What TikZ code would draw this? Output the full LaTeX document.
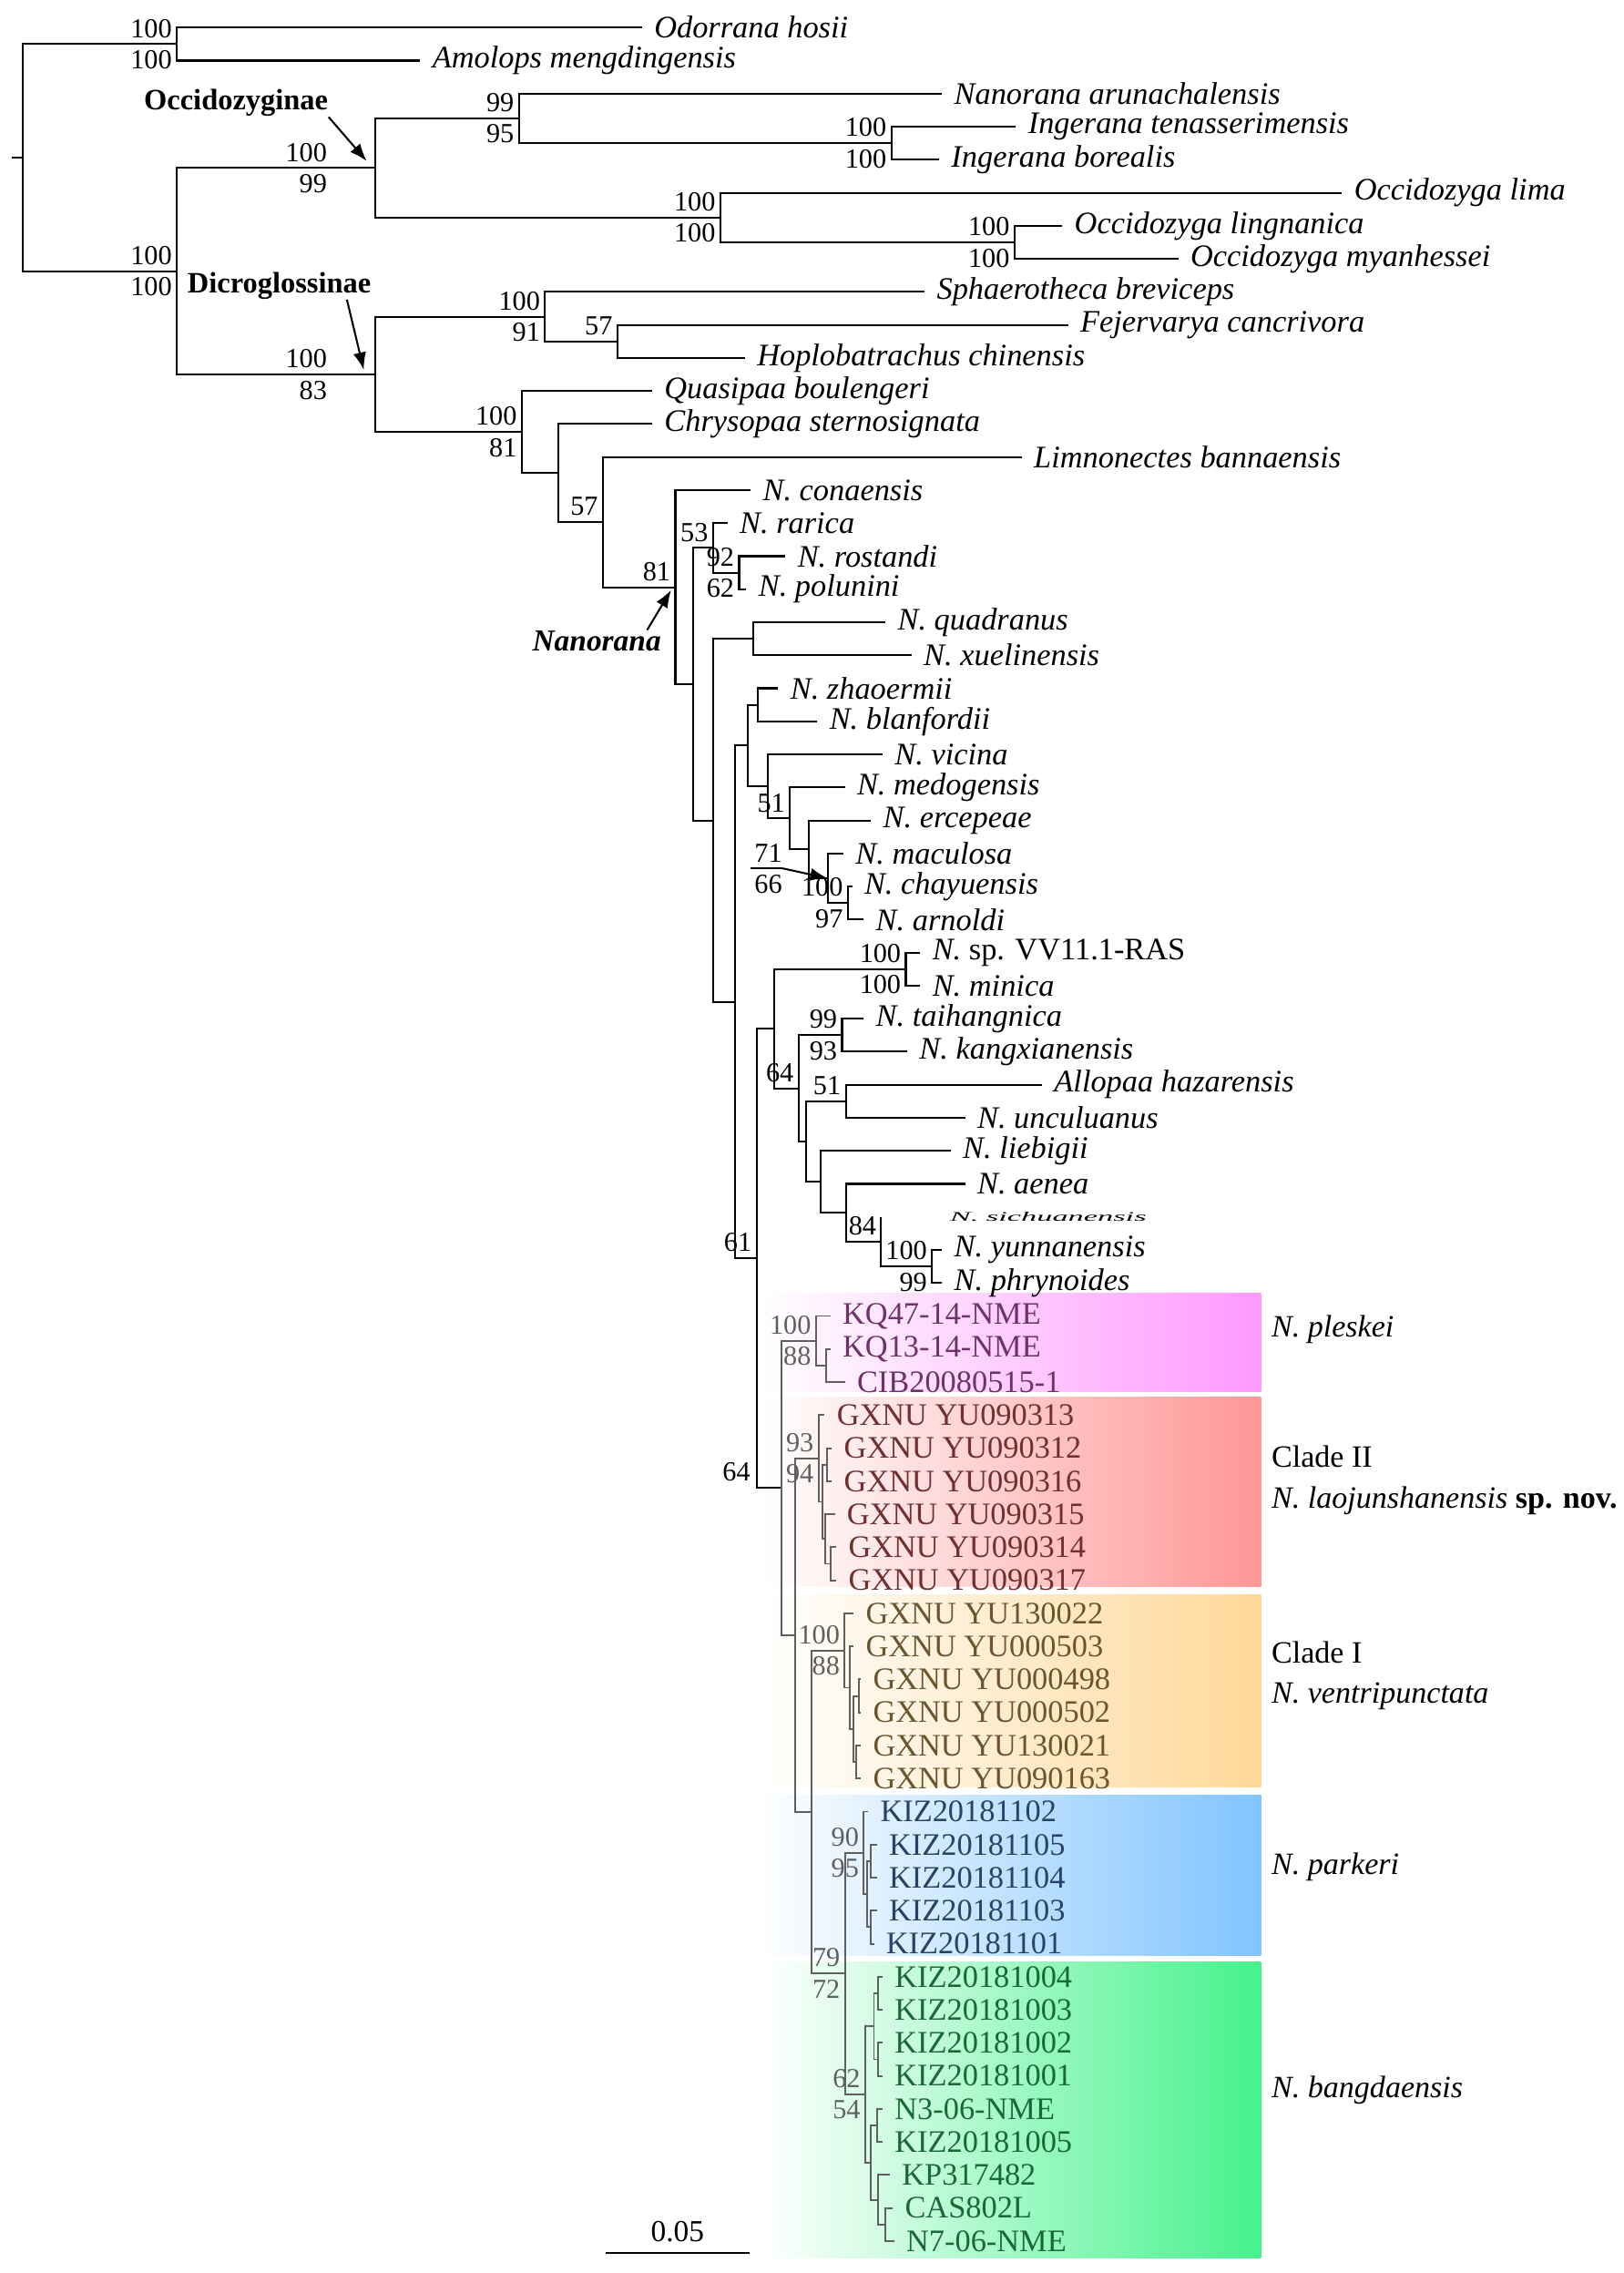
\documentclass[tikz,border=0pt]{standalone}
\usepackage{fontspec}
\setmainfont{Liberation Serif}
\usepackage{xcolor}
\usepackage{graphicx}
\usetikzlibrary{arrows.meta}

\definecolor{plebox}{HTML}{FF99FF}
\definecolor{cIIbox}{HTML}{FF9696}
\definecolor{cIbox}{HTML}{FFD898}
\definecolor{parbox}{HTML}{80C4FF}
\definecolor{banbox}{HTML}{45F28C}
\definecolor{pletext}{RGB}{110,50,105}
\definecolor{cIItext}{RGB}{112,48,48}
\definecolor{cItext}{RGB}{105,85,48}
\definecolor{partext}{RGB}{40,68,98}
\definecolor{bantext}{RGB}{25,105,55}
\definecolor{treegray}{RGB}{95,95,95}

\begin{document}
\begin{tikzpicture}[
    x=0.5pt, y=-11.395pt,
    br/.style={line width=0.65pt},
    brg/.style={line width=0.6pt, draw=treegray},
    taxon/.style={anchor=west, inner xsep=4pt, inner ysep=0pt, font=\fontsize{10.8}{12}\selectfont\itshape},
    voucher/.style={taxon, font=\fontsize{10.8}{12}\selectfont},
    clade/.style={anchor=west, inner sep=0pt, font=\fontsize{10.7}{12}\selectfont},
    subfam/.style={anchor=west, inner sep=0pt, font=\fontsize{10.2}{12}\selectfont\bfseries},
    bsup/.style={anchor=south east, inner xsep=1.5pt, inner ysep=2pt, font=\fontsize{9.5}{10}\selectfont},
    bsdn/.style={bsup, anchor=north east},
    pointer/.style={-{Latex[length=6pt,width=4.5pt]}, line width=0.65pt}
]
\useasboundingbox (0,0.1663) rectangle (1120,68.968);

% coloured clades
\shade[left color=white, right color=plebox] (526,39.3) rectangle (870,42.3);
\shade[left color=white, right color=cIIbox] (526,42.45) rectangle (870,48.2);
\shade[left color=white, right color=cIbox] (526,48.45) rectangle (870,54.25);
\shade[left color=white, right color=parbox] (522,54.5) rectangle (870,59.35);
\shade[left color=white, right color=banbox] (526,59.55) rectangle (870,68.5);

% internal nodes
\coordinate (stub) at (8,4.94);
\coordinate (root) at (16,4.94);
\coordinate (nA) at (122,1.5);
\coordinate (nB) at (122,8.375);
\coordinate (occ) at (259,5.25);
\coordinate (n99) at (358,3.75);
\coordinate (nIng) at (615,4.5);
\coordinate (nOl) at (497,6.75);
\coordinate (nOm) at (700,7.5);
\coordinate (dic) at (259,11.5);
\coordinate (nSph) at (376,9.75);
\coordinate (nFej) at (426,10.5);
\coordinate (nQua) at (360,13.245);
\coordinate (nChr) at (385,14.49);
\coordinate (nLim) at (416,15.97);
\coordinate (nNan) at (466,17.94);
\coordinate (n478) at (478,20.875);
\coordinate (nRar) at (492,16.75);
\coordinate (nRos) at (510,17.5);
\coordinate (n492) at (492,25.0);
\coordinate (nQx) at (520,19.5);
\coordinate (n507) at (507,30.49);
\coordinate (n516) at (516,22.735);
\coordinate (nZha) at (523,21.5);
\coordinate (nVic) at (530,23.97);
\coordinate (nMed) at (545,24.94);
\coordinate (nErc) at (558,25.875);
\coordinate (nMac) at (571,26.75);
\coordinate (nCha) at (585,27.5);
\coordinate (n522) at (522,38.25);
\coordinate (n534) at (534,31.3);
\coordinate (nSp) at (625,29.5);
\coordinate (n551) at (551,33.11);
\coordinate (nTai) at (581,31.5);
\coordinate (n556) at (556,34.72);
\coordinate (nAll) at (583.6,33.5);
\coordinate (n566) at (566,35.94);
\coordinate (n584) at (584,36.875);
\coordinate (n608) at (608,37.75);
\coordinate (nYun) at (643,38.5);
\coordinate (t37) at (608,37);
\coordinate (n539) at (539,45.2);
\coordinate (nPle) at (563,40.75);
\coordinate (nPle2) at (570,41.5);
\coordinate (n548) at (548.5,49.66);
\coordinate (nCII) at (564.8,44.31);
\coordinate (nCIIa) at (567.7,45.625);
\coordinate (nCIIb) at (570.8,44.5);
\coordinate (nCIIc) at (569.6,46.75);
\coordinate (nCIId) at (573.2,47.5);
\coordinate (n560) at (560,55.01);
\coordinate (nCI) at (582.8,50.125);
\coordinate (nCIa) at (586.6,51.25);
\coordinate (nCIb) at (589,52.5);
\coordinate (nCIc) at (592.4,51.5);
\coordinate (nCId) at (591,53.5);
\coordinate (n583) at (583,59.9);
\coordinate (nPar) at (596,56.25);
\coordinate (nPar1) at (598,57.5);
\coordinate (nPar2) at (601,56.5);
\coordinate (nPar3) at (601,58.5);
\coordinate (nBan) at (597,63.5625);
\coordinate (nBan1) at (603,61.5);
\coordinate (nBan2) at (606,60.5);
\coordinate (nBan3) at (606,62.5);
\coordinate (nBan4) at (601,65.625);
\coordinate (nBan5) at (605,64.5);
\coordinate (nBan6) at (606,66.75);
\coordinate (nBan7) at (611,67.5);

% taxa
\foreach \i/\x/\name in {1/443/Odorrana hosii, 2/290/Amolops mengdingensis,
    3/650/Nanorana arunachalensis, 4/701/Ingerana tenasserimensis, 5/648/Ingerana borealis,
    6/926/Occidozyga lima, 7/733/Occidozyga lingnanica, 8/813/Occidozyga myanhessei,
    9/638/Sphaerotheca breviceps, 10/737/Fejervarya cancrivora, 11/514/Hoplobatrachus chinensis,
    12/450/Quasipaa boulengeri, 13/450/Chrysopaa sternosignata, 14/705/Limnonectes bannaensis,
    15/518/N. conaensis, 16/502/N. rarica, 17/542/N. rostandi, 18/515/N. polunini,
    19/611/N. quadranus, 20/629/N. xuelinensis, 21/537/N. zhaoermii, 22/564/N. blanfordii,
    23/609/N. vicina, 24/583/N. medogensis, 25/601/N. ercepeae, 26/582/N. maculosa,
    27/588/N. chayuensis, 28/596/N. arnoldi, 29/635/{N. {\upshape sp. VV11.1-RAS}},
    30/635/N. minica, 31/596/N. taihangnica, 32/626/N. kangxianensis,
    33/719/Allopaa hazarensis, 34/666/N. unculuanus, 35/656/N. liebigii, 36/666/N. aenea,
    38/650/N. yunnanensis, 39/650/N. phrynoides}
    \node[taxon] (t\i) at (\x,\i) {\name};
\node[taxon, inner xsep=0pt] (l37) at (655,37) {\scalebox{1}[0.42]{N. sichuanensis}};
\foreach \i/\x/\name in {40/573/KQ47-14-NME, 41/573/KQ13-14-NME, 42/583/CIB20080515-1}
    \node[voucher, text=pletext] (t\i) at (\x,\i) {\name};
\foreach \i/\x/\name in {43/569/GXNU YU090313, 44/574/GXNU YU090312, 45/574/GXNU YU090316,
    46/576/GXNU YU090315, 47/577/GXNU YU090314, 48/577/GXNU YU090317}
    \node[voucher, text=cIItext] (t\i) at (\x,\i) {\name};
\foreach \i/\x/\name in {49/589/GXNU YU130022, 50/589/GXNU YU000503, 51/594/GXNU YU000498,
    52/594/GXNU YU000502, 53/594/GXNU YU130021, 54/594/GXNU YU090163}
    \node[voucher, text=cItext] (t\i) at (\x,\i) {\name};
\foreach \i/\x/\name in {55/599/KIZ20181102, 56/605/KIZ20181105, 57/605/KIZ20181104,
    58/605/KIZ20181103, 59/603/KIZ20181101}
    \node[voucher, text=partext] (t\i) at (\x,\i) {\name};
\foreach \i/\x/\name in {60/609/KIZ20181004, 61/609/KIZ20181003, 62/609/KIZ20181002,
    63/609/KIZ20181001, 64/609/N3-06-NME, 65/609/KIZ20181005, 66/614/KP317482,
    67/616/CAS802L, 68/617/N7-06-NME}
    \node[voucher, text=bantext] (t\i) at (\x,\i) {\name};

% branches
\draw[br] (stub) -- (root);
\foreach \p/\c in {root/nA, root/nB, nA/t1, nA/t2, nB/occ, nB/dic,
    occ/n99, occ/nOl, n99/t3, n99/nIng, nIng/t4, nIng/t5, nOl/t6, nOl/nOm, nOm/t7, nOm/t8,
    dic/nSph, dic/nQua, nSph/t9, nSph/nFej, nFej/t10, nFej/t11,
    nQua/t12, nQua/nChr, nChr/t13, nChr/nLim, nLim/t14, nLim/nNan, nNan/t15, nNan/n478,
    n478/nRar, n478/n492, nRar/t16, nRar/nRos, nRos/t17, nRos/t18,
    n492/nQx, n492/n507, nQx/t19, nQx/t20, n507/n516, n507/n522,
    n516/nZha, n516/nVic, nZha/t21, nZha/t22, nVic/t23, nVic/nMed, nMed/t24, nMed/nErc,
    nErc/t25, nErc/nMac, nMac/t26, nMac/nCha, nCha/t27, nCha/t28,
    n522/n534, n522/n539, n534/nSp, n534/n551, nSp/t29, nSp/t30,
    n551/nTai, n551/n556, nTai/t31, nTai/t32, n556/nAll, n556/n566, nAll/t33, nAll/t34,
    n566/t35, n566/n584, n584/t36, n584/n608, n608/t37, n608/nYun, nYun/t38, nYun/t39}
    \draw[br] (\p) |- (\c);
\foreach \p/\c in {n539/nPle, n539/n548, nPle/t40, nPle/nPle2, nPle2/t41, nPle2/t42,
    n548/nCII, n548/n560, nCII/t43, nCII/nCIIa, nCIIa/nCIIb, nCIIa/nCIIc,
    nCIIb/t44, nCIIb/t45, nCIIc/t46, nCIIc/nCIId, nCIId/t47, nCIId/t48,
    n560/nCI, n560/n583, nCI/t49, nCI/nCIa, nCIa/t50, nCIa/nCIb, nCIb/nCIc, nCIb/nCId,
    nCIc/t51, nCIc/t52, nCId/t53, nCId/t54,
    n583/nPar, n583/nBan, nPar/t55, nPar/nPar1, nPar1/nPar2, nPar1/nPar3,
    nPar2/t56, nPar2/t57, nPar3/t58, nPar3/t59,
    nBan/nBan1, nBan/nBan4, nBan1/nBan2, nBan1/nBan3, nBan2/t60, nBan2/t61,
    nBan3/t62, nBan3/t63, nBan4/nBan5, nBan4/nBan6, nBan5/t64, nBan5/t65,
    nBan6/t66, nBan6/nBan7, nBan7/t67, nBan7/t68}
    \draw[brg] (\p) |- (\c);

% support values
\foreach \n/\u/\d in {nA/100/100, nB/100/100, n99/99/95, nIng/100/100, nOl/100/100,
    nOm/100/100, nSph/100/91, nQua/100/81, nRos/92/62, nCha/100/97, nSp/100/100,
    nTai/99/93, nYun/100/99}
    {\node[bsup] at (\n) {\u}; \node[bsdn] at (\n) {\d};}
\foreach \n/\u/\d in {occ/100/99, dic/100/83}
    {\node[bsup, xshift=-15pt] at (\n) {\u}; \node[bsdn, xshift=-15pt] at (\n) {\d};}
\foreach \n/\u in {nFej/57, nLim/57, nNan/81, nRar/53, nMed/51, n551/64, nAll/51, n608/84, n522/61}
    \node[bsup] at (\n) {\u};
\node[bsup, xshift=-9pt] at (n539) {64};
\foreach \n/\u/\d in {nPle/100/88, nCII/93/94, nCI/100/88, n583/79/72, nPar/90/95, nBan/62/54}
    {\node[bsup, text=treegray] at (\n) {\u}; \node[bsdn, text=treegray] at (\n) {\d};}

% 71/66 pointer
\coordinate (macrule) at (518,26.45);
\coordinate (mactail) at (540,26.45);
\draw[br] (macrule) -- (mactail);
\node[bsup, inner xsep=0pt] at (mactail) {71};
\node[bsdn, inner xsep=0pt] at (mactail) {66};
\draw[pointer] (mactail) -- (nMac);

% subfamily and genus labels
\node[subfam] (occlab) at (99,3.28) {Occidozyginae};
\node[subfam] (diclab) at (129,8.81) {Dicroglossinae};
\node[subfam, font=\fontsize{10.5}{12}\selectfont\bfseries\itshape] (nanlab) at (367,19.56) {Nanorana};
\coordinate (occhead) at (253,5.04);
\coordinate (dichead) at (251,11.36);
\coordinate (nanhead) at (463,18.03);
\draw[pointer] (occlab.south east) -- (occhead);
\draw[pointer] ([xshift=-8.5pt]diclab.south east) -- (dichead);
\draw[pointer] ([xshift=-5pt]nanlab.north east) -- (nanhead);

% clade names
\node[clade] (lple) at (877,40.4) {\textit{N. pleskei}};
\node[clade] (lcIIa) at (877,44.26) {Clade II};
\node[clade] (lcIIb) at (877,45.58) {\textit{N. laojunshanensis} \textbf{sp. nov.}};
\node[clade] (lcIa) at (877,50.19) {Clade I};
\node[clade] (lcIb) at (877,51.5) {\textit{N. ventripunctata}};
\node[clade] (lpar) at (877,56.68) {\textit{N. parkeri}};
\node[clade] (lban) at (877,63.44) {\textit{N. bangdaensis}};

% scale bar
\coordinate (sbl) at (418,68.35);
\coordinate (sbr) at (517,68.35);
\draw[br] (sbl) -- (sbr) node[midway, above, font=\fontsize{10.5}{12}\selectfont] {0.05};
\end{tikzpicture}
\end{document}
